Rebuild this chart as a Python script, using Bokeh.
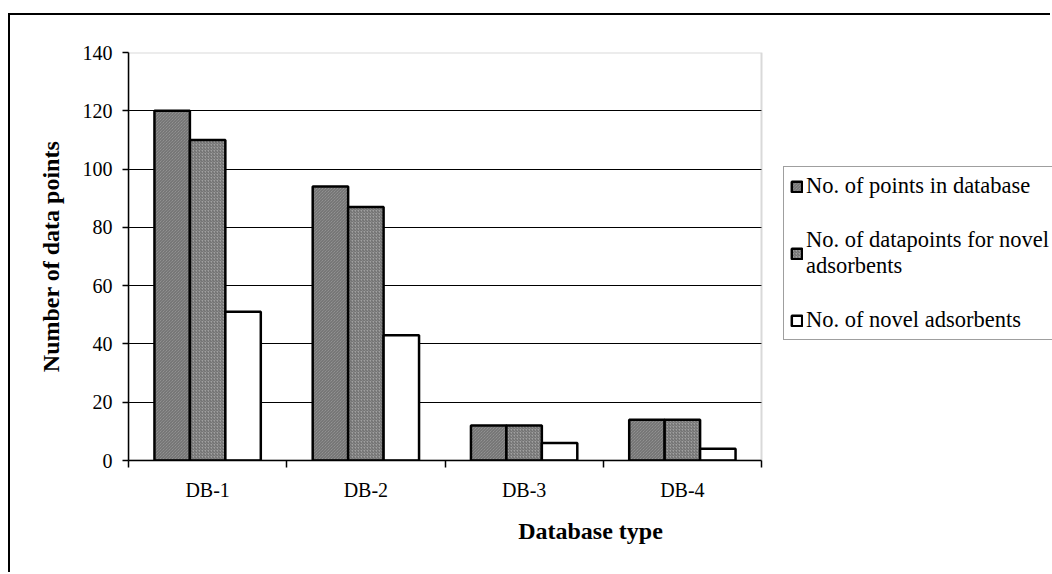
from bokeh.plotting import figure
from bokeh.models import (Range1d, FixedTicker, Legend, LegendItem, ColumnDataSource,
                          CustomJSTickFormatter, BoxAnnotation)
from bokeh.transform import dodge
from bokeh.embed import file_html
from bokeh.resources import INLINE

categories = ["DB-1", "DB-2", "DB-3", "DB-4"]
points_in_db = [120, 94, 12, 14]
points_novel = [110, 87, 12, 14]
novel_adsorbents = [51, 43, 6, 4]
series_labels = ["No. of points in database",
                 "No. of datapoints for novel\nadsorbents",
                 "No. of novel adsorbents"]
y_ticks = [0, 20, 40, 60, 80, 100, 120, 140]

FONT = "Liberation Serif"
n = len(categories)
centers = [i + 0.5 for i in range(n)]
edges = list(range(n + 1))
y_max = y_ticks[-1]

# layout (pixels)
FIG_W, FIG_H = 1042, 559
LEFT, TOP, BOTTOM = 118, 37, 114
PLOT_W = 633                      # width of the visible plot area
FRAME_W = FIG_W - LEFT            # frame runs to the right edge so the legend is not clipped

src = ColumnDataSource(dict(x=centers, cat=categories, a=points_in_db, b=points_novel,
                            c=novel_adsorbents))

p = figure(width=FIG_W, height=FIG_H,
           x_range=Range1d(0, n * FRAME_W / PLOT_W), y_range=Range1d(0, y_max),
           output_backend="svg", toolbar_location=None,
           min_border_left=LEFT, min_border_top=TOP, min_border_right=0, min_border_bottom=BOTTOM)
p.margin = (13, 0, 0, 8)
p.styles = {"border-left": "2px solid black", "border-top": "2px solid black"}
p.background_fill_color = "white"
p.border_fill_color = "white"
p.outline_line_color = None

# plot-area box (grey top/right edge)
p.add_layout(BoxAnnotation(left=0, right=n, bottom=0, top=y_max, fill_alpha=0,
                           line_color="#808080", line_width=2, level="underlay"))

# y axis
ya = p.yaxis[0]
ya.ticker = FixedTicker(ticks=y_ticks)
ya.major_tick_out = 6
ya.major_tick_in = 0
ya.minor_tick_out = 0
ya.minor_tick_in = 0
ya.axis_line_color = "black"
ya.axis_line_width = 1.5
ya.major_tick_line_width = 1.5
ya.major_label_text_font = FONT
ya.major_label_text_font_size = "20px"
ya.major_label_text_color = "black"
ya.major_label_standoff = 10
ya.axis_label = "Number of data points"
ya.axis_label_text_font = FONT
ya.axis_label_text_font_size = "24px"
ya.axis_label_text_font_style = "bold"
ya.axis_label_text_color = "black"
ya.axis_label_standoff = 16

p.xgrid.visible = False
grid_ok = True
try:
    p.ygrid.cross_bounds = (0, n)
except Exception:
    grid_ok = False
if grid_ok:
    p.ygrid.ticker = FixedTicker(ticks=y_ticks[1:-1])
    p.ygrid.grid_line_color = "black"
    p.ygrid.grid_line_width = 1
else:
    p.ygrid.visible = False
    gy = y_ticks[1:-1]
    p.segment(x0=[0] * len(gy), x1=[n] * len(gy), y0=gy, y1=gy,
              line_color="black", line_width=1, level="underlay")

# x axis: labels at category centres, ticks at category boundaries
xa = p.xaxis[0]
xa.bounds = (0, n)
xa.ticker = FixedTicker(ticks=centers, minor_ticks=edges)
xa.formatter = CustomJSTickFormatter(args=dict(cats=categories),
                                     code="return cats[Math.floor(tick)];")
xa.major_tick_out = 0
xa.major_tick_in = 0
xa.minor_tick_out = 7
xa.minor_tick_in = 0
xa.minor_tick_line_color = "black"
xa.minor_tick_line_width = 1.5
xa.axis_line_color = "black"
xa.axis_line_width = 1.5
xa.major_label_text_font = FONT
xa.major_label_text_font_size = "20px"
xa.major_label_text_color = "black"
xa.major_label_standoff = 11
xa.axis_label = "Database type"
xa.axis_label_text_font = FONT
xa.axis_label_text_font_size = "24px"
xa.axis_label_text_font_style = "bold"
xa.axis_label_text_color = "black"
xa.axis_label_standoff = 14

w = 0.224
common = dict(width=w, source=src, line_color="black", line_width=2.5)
r1 = p.vbar(x=dodge("x", -w), top="a", fill_color="#a0a0a0",
            hatch_pattern="\\", hatch_color="#686868", hatch_scale=3, hatch_weight=1, **common)
r2 = p.vbar(x=dodge("x", 0), top="b", fill_color="#a0a0a0",
            hatch_pattern="/", hatch_color="#686868", hatch_scale=3, hatch_weight=1, **common)
r3 = p.vbar(x=dodge("x", w), top="c", fill_color="white", **common)

legend = Legend(items=[LegendItem(label=series_labels[0], renderers=[r1]),
                       LegendItem(label=series_labels[1], renderers=[r2]),
                       LegendItem(label=series_labels[2], renderers=[r3])],
                location=(655, 120), margin=0, padding=6, spacing=28,
                border_line_color="#404040", border_line_width=1.5,
                label_text_font=FONT, label_text_font_size="22.5px", label_text_color="black",
                glyph_width=13, glyph_height=13, label_standoff=3,
                background_fill_color="white", background_fill_alpha=1)
p.add_layout(legend)

open("out.html", "w").write(file_html(p, INLINE))
